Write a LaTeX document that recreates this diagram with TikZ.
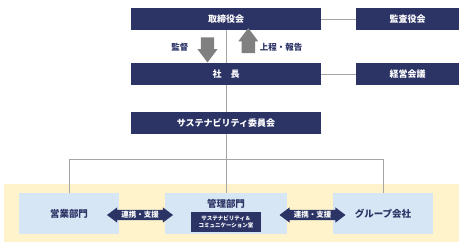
\documentclass[tikz,border=0pt]{standalone}
\usepackage{fontspec}
\setmainfont{Noto Sans CJK JP}
\usetikzlibrary{shapes.arrows}
\definecolor{navy}{RGB}{44,52,102}
\definecolor{paleblue}{RGB}{214,230,245}
\definecolor{paleyellow}{RGB}{255,243,204}
\definecolor{linegray}{RGB}{165,165,165}
\definecolor{arrowgray}{RGB}{128,128,128}
\tikzset{
  orgbox/.style={fill=navy, text=white, inner sep=0pt, minimum height=22,
    font=\bfseries\fontsize{9}{11}\selectfont},
  deptbox/.style={fill=paleblue, text=navy, inner sep=0pt, minimum width=100, minimum height=41,
    font=\bfseries\fontsize{9.5}{11}\selectfont},
  flowarrow/.style={single arrow, fill=arrowgray, inner sep=6.5pt, minimum height=25,
    single arrow head extend=3.25pt, single arrow tip angle=74},
  linkarrow/.style={double arrow, fill=navy, text=white, inner xsep=1pt, inner ysep=1.3pt,
    minimum height=66, double arrow head extend=2.5pt, double arrow tip angle=74,
    font=\bfseries\fontsize{7.5}{8}\selectfont},
  flowlabel/.style={text=navy, font=\bfseries\fontsize{8.5}{10}\selectfont},
  tie/.style={draw=linegray, line width=1pt}
}
\begin{document}
\begin{tikzpicture}[x=1pt, y=-1pt]
    \useasboundingbox (0,0) rectangle (467,252);
    \fill[paleyellow] (4,184) rectangle (459,242);

    \node[orgbox, minimum width=190] (board) at (226,19) {取締役会};
    \node[orgbox, minimum width=103] (audit) at (407.5,19) {監査役会};
    \node[orgbox, minimum width=190] (president) at (226,74) {社　長};
    \node[orgbox, minimum width=103] (mgmt) at (407.5,74) {経営会議};
    \node[orgbox, minimum width=190] (committee) at (226,123) {サステナビリティ委員会};

    \node[flowarrow, rotate=-90] (supervise) at (207.5,45.5) {};
    \node[flowarrow, rotate=90] (report) at (248.3,45) {};
    \node[flowlabel] (supervisetext) at (180,47.5) {監督};
    \node[flowlabel] (reporttext) at (281,47.5) {上程・報告};

    \node[deptbox] (sales) at (69,213.5) {営業部門};
    \node[deptbox, minimum width=122] (admin) at (226,213.5) {};
    \node[deptbox] (group) at (383,213.5) {グループ会社};
    \node[text=navy, font=\bfseries\fontsize{9.5}{11}\selectfont] (admintext) at (226,204) {管理部門};
    \node[fill=navy, text=white, minimum width=70, minimum height=20, inner sep=0pt, align=center,
        font=\bfseries\fontsize{5.5}{7.5}\selectfont] (office) at (226,222)
        {サステナビリティ＆\\コミュニケーション室};

    \coordinate (branch) at (226,159);
    \draw[tie] (board.east) -- (audit.west);
    \draw[tie] (president.east) -- (mgmt.west);
    \draw[tie] (board) -- (president);
    \draw[tie] (president) -- (committee);
    \draw[tie] (committee.south) -- (admin.north);
    \draw[tie] (branch) -| (sales.north);
    \draw[tie] (branch) -| (group.north);

    \node[linkarrow] (linkleft) at (140,215) {連携・支援};
    \node[linkarrow] (linkright) at (312.5,215) {連携・支援};
\end{tikzpicture}
\end{document}
